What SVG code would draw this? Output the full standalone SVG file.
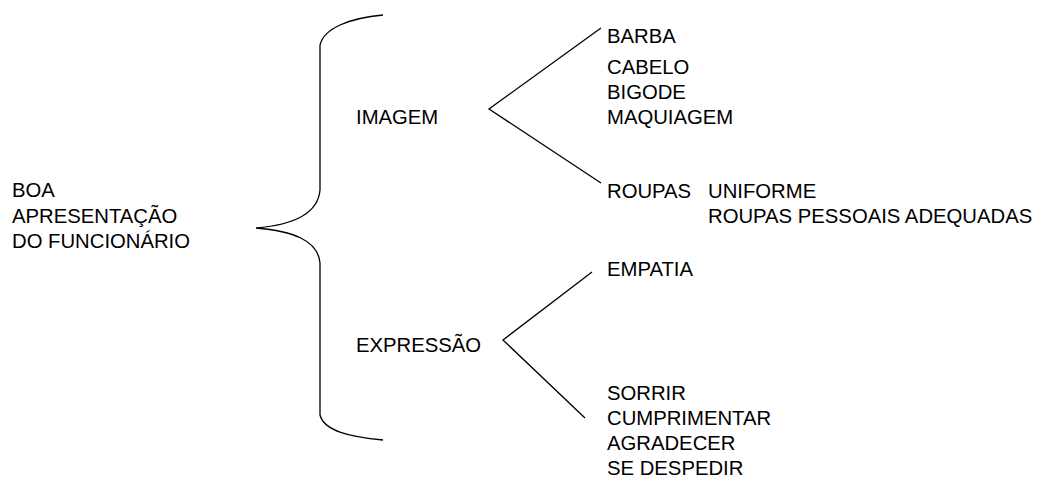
<svg xmlns="http://www.w3.org/2000/svg" width="1040" height="481" viewBox="0 0 1040 481">
  <style>
    text { font-family: "Liberation Sans", Arial, sans-serif; font-size: 20.3px; fill: #000; }
    .ln { fill: none; stroke: #000; stroke-width: 1.3; }
  </style>
  <rect width="1040" height="481" fill="#fff"/>

  <g id="connectors">
    <!-- main brace -->
    <path class="ln" d="M383,15 C350,18 324,28 320,45 L320,190 C318,214 292,225 256,228 C292,231 318,240 320,263 L320,415 C324,431 350,437 383,440"/>
    <!-- IMAGEM fork -->
    <path class="ln" d="M601,28 L489,109 L601,183"/>
    <!-- EXPRESSÃO fork -->
    <path class="ln" d="M592,272 L503,340 L585,418"/>
  </g>

  <g id="root">
    <text x="12" y="197">BOA</text>
    <text x="12" y="223">APRESENTAÇÃO</text>
    <text x="12" y="248">DO FUNCIONÁRIO</text>
  </g>

  <g id="imagem">
    <text x="356" y="124">IMAGEM</text>
  </g>

  <g id="expressao">
    <text x="356" y="352">EXPRESSÃO</text>
  </g>

  <g id="aparencia">
    <text x="607" y="43">BARBA</text>
    <text x="607" y="74">CABELO</text>
    <text x="607" y="99">BIGODE</text>
    <text x="607" y="124">MAQUIAGEM</text>
  </g>

  <g id="roupas">
    <text x="607" y="198">ROUPAS</text>
    <text x="708" y="198">UNIFORME</text>
    <text x="708" y="223">ROUPAS PESSOAIS ADEQUADAS</text>
  </g>

  <g id="empatia">
    <text x="607" y="276">EMPATIA</text>
  </g>

  <g id="atitudes">
    <text x="607" y="400">SORRIR</text>
    <text x="607" y="425">CUMPRIMENTAR</text>
    <text x="607" y="450">AGRADECER</text>
    <text x="607" y="475">SE DESPEDIR</text>
  </g>
</svg>
